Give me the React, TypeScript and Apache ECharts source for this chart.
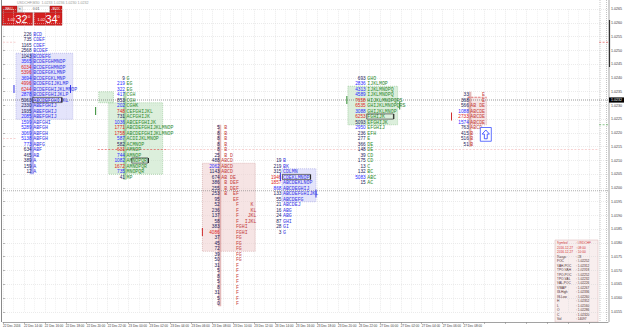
import { useEffect, useRef } from "react";
import * as echarts from "echarts";

// ---------- axes ----------
const timeLabels = [
  "22 Dec 2016", "22 Dec 14:00", "22 Dec 16:00", "22 Dec 18:00", "22 Dec 20:00", "22 Dec 22:00",
  "23 Dec 00:00", "23 Dec 02:00", "23 Dec 04:00", "23 Dec 06:00", "23 Dec 08:00", "23 Dec 10:00",
  "23 Dec 12:00", "23 Dec 14:00", "23 Dec 16:00", "23 Dec 18:00", "23 Dec 20:00", "23 Dec 22:00",
  "27 Dec 00:00", "27 Dec 02:00", "27 Dec 04:00", "27 Dec 06:00", "27 Dec 08:00",
];
const barsPerLabel = 4;
const barMax = 115.6;
const priceMin = 1.0155;
const priceMax = 1.0265;
const priceStep = 0.0005;
const rowStep = 0.0002;
const bidPrice = 1.0232;
const sellText = ["1.02", "32", "0"];
const buyText = ["1.02", "34", "0"];
const lotText = "0.01";
const titleText = "USDCHF,M30  1.0233 1.0236 1.0230 1.0232";

// ---------- profile 1 (blue) ----------
const p1Start = 5.77;
const p1Top = 1.0256;
const p1Counts = [226, 735, 1165, 2568, 1043, 3565, 6034, 5396, 3694, 4996, 6244, 2878, 5063, 2330, 1935, 2085, 1599, 5289, 3069, 5138, 773, 634, 465, 389, 159, 12];
const p1Letters = ["BCD", "CDEF", "CDEF", "BCDEF", "BCDEFG", "BCDEFGHMNOP", "BCDEFGHMNOP", "BCDEFGKLMNP", "BCDEFGKLMNP", "BCDEFGIJKLMP", "BCDEFGHIJKLMNOP", "BCDEFGHIJKLP", "ABCDEFGHIJKL", "ABEFGHIJ", "ABEFGHIJ", "ABEFGHIJ", "ABFGHI", "ABFGH", "ABFGH", "ABFGH", "ABFG", "ABF", "AB", "A", "A", "A"];
const p1Tones = [0, 0, 0, 0, 0, 1, 2, 2, 1, 2, 2, 1, 0, 0, 0, 1, 1, 1, 1, 1, 1, 0, 0, 0, 0, 0];

// ---------- profile 2 (green) ----------
const p2Start = 23.6;
const p2Top = 1.024;
const p2Counts = [9, 219, 322, 417, 853, 202, 748, 731, 1036, 1771, 1758, 587, 582, 631, 744, 1082, 1672, 735, 41];
const p2Letters = ["G", "EG", "EG", "CGH", "CGH", "CGHK", "CEFGHIJKL", "ACFGHIJK", "ABCEFGHIJK", "ABCDEFGHIJKLMNOP", "ABCDEFGHIJKLMNOP", "ACDIJKLMNOP", "ACMNOP", "AMNOP", "AMNOP", "AMNOPQR", "AMNOPQR", "MNOPQR", "MP"];
const p2Tones = [0, 1, 1, 1, 0, 1, 2, 0, 1, 2, 2, 1, 0, 2, 1, 1, 2, 1, 0];

// ---------- profile 3 (red, split) ----------
const p3Start = 41.7;
const p3Top = 1.0222;
const p3Counts = [5, 8, 8, 8, 8, 25, 488, 2062, 1143, 674, 386, 255, 253, 95, 52, 236, 137, 58, 383, 4086, 37, 45, 72, 39, 50, 31, 5, 8, 5, 8, 31, 5, 0];
const p3Letters = [" B", " B", " B", " B", " B", " B D", "ABCD", "ABCD", "ABCD", "AB DE", " B DEF", " B DEF", " B  EF", "    EF", "     F    K", "     F    KL", "     F   JKL", "     F  IJKL", "     FGHI", "     FGHI", "     FG", "     FG", "     FG", "     FG", "     FG", "     F", "     F", "     F", "     F", "     F", "     F", "     F", "     F"];
const p3Tones = [0, 0, 0, 0, 0, 0, 0, 1, 0, 0, 0, 0, 0, 0, 0, 0, 0, 0, 0, 2, 0, 0, 0, 0, 0, 0, 0, 0, 0, 0, 0, 0, 0];

// ---------- profile 4 (blue) ----------
const p4Start = 53.5;
const p4Top = 1.021;
const p4Counts = [19, 219, 315, 1946, 1857, 868, 133, 55, 21, 16, 24, 87, 28, 3];
const p4Letters = ["B", "BK", "CDLMN", "CDEKLMNOP", "ABCDEKLNOP", "ABCDEGHIJ", "ABCDEFGHIJKL", "ABCDEFG", "ABCDEJ", "ABG", "ABG", "GHI", "GI", "G"];
const p4Tones = [0, 0, 0, 2, 2, 1, 0, 0, 0, 0, 0, 0, 0, 0];

// ---------- profile 5 (green) ----------
const p5Start = 69.6;
const p5Top = 1.024;
const p5Counts = [693, 2836, 4313, 4589, 7658, 6535, 3088, 6253, 5093, 2950, 236, 277, 366, 148, 39, 175, 13, 132, 5083, 15];
const p5Letters = ["GHO", "IJKLMOP", "IJKLMNOPQ", "IJKLMNOPQ", "HIJKLMNOPQRS", "GHIJKLMNOPQRS", "GHIJKLMNOP", "FGHIJK", "EFGHIJK", "EFGHIJ", "EFH", "E", "DE", "DE", "CD", "CD", "C", "BC", "ABC", "AC"];
const p5Tones = [0, 1, 1, 1, 2, 2, 1, 2, 0, 1, 0, 0, 0, 0, 0, 0, 0, 0, 1, 0];

// ---------- profile 6 (red, split) ----------
const p6Start = 89.3;
const p6Top = 1.0234;
const p6Counts = [33, 368, 566, 1088, 2733, 1574, 763, 415, 516, 51];
const p6Letters = ["    E", "    E", "AB DE", "ABCDE", "ABCDE", "ABCDE", "ABCD", "B", "B", "B"];
const p6Tones = [0, 0, 0, 1, 2, 1, 0, 0, 0, 0];

// ---------- shapes in data units: [barFrom, barTo, priceTop, priceBottom, style] ----------
const areaBoxes = [
  [2.48, 13.33, 1.0249, 1.0225, 0],
  [5.14, 5.9, 1.0249, 1.0205, 3],
  [20.2, 30.5, 1.0231, 1.0205, 1],
  [18.3, 21.1, 1.0235, 1.0231, 1],
  [23.0, 23.6, 1.0235, 1.0203, 4],
  [38.1, 48.2, 1.0209, 1.0177, 2],
  [41.1, 41.7, 1.0223, 1.0157, 5],
  [53.3, 59.8, 1.0207, 1.0195, 0],
  [65.9, 75.4, 1.0237, 1.0223, 1],
  [88.8, 92.4, 1.0233, 1.0223, 2],
  [88.95, 89.5, 1.0235, 1.0215, 5],
];
// close-price markers [barFrom, barTo, price]
const closeMarks = [
  [5.77, 11.1, 1.0232],
  [24.7, 27.6, 1.021],
  [53.5, 58.6, 1.0204],
  [69.6, 74.5, 1.0226],
];
// POC brackets [bar, price, colour]
const pocBrackets = [
  [2.1, 1.0236, 0],
  [12.9, 1.0236, 0],
  [17.7, 1.0228, 1],
  [38.1, 1.0184, 2],
  [53.0, 1.0204, 0],
  [59.8, 1.0198, 0],
  [65.7, 1.0232, 1],
  [75.8, 1.023, 1],
  [85.7, 1.0226, 2],
];
// breakout arrow box [barFrom, barTo, priceTop, priceBottom]
const arrowBoxes = [[91.2, 93.3, 1.0222, 1.0217]];
// horizontal guide lines [barFrom, barTo, price, style]
const guideLines = [
  [0, barMax, bidPrice, 0],
  [0, barMax, 1.0199, 1],
  [0, 2.5, 1.0253, 2],
  [0, 2.5, 1.0218, 2],
  [18.1, 31.6, 1.0214, 3],
  [31.6, 113.9, 1.0214, 2],
  [88.8, 92.4, 1.0233, 3],
  [113.9, barMax, 1.0253, 3],
  [113.9, barMax, 1.0223, 4],
];
// session statistics panel
const infoLabels = ["Symbol", "2016.12.27", "2016.12.27", "Range", "POC", "VAH-POC", "TPO-VAH", "TPO-POC", "TPO-VAL", "VAL-POC", "VWAP", "IB-High", "IB-Low", "H", "L", "O", "C", "Vol"];
const infoValues = ["USDCHF", "08:00", "10:00", "28", "1.02252", "1.02312", "1.02318", "1.02252", "1.02232", "1.02226", "1.02267", "1.02336", "1.02260", "1.02352", "1.02160", "1.02286", "1.02320", "14097"];

const toneColors = ["#1d1d5e", "#2b2bff", "#e02626"];
const markColors = ["#3434e6", "#2f8a2f", "#d02c2c"];
const boxStyles = [
  { fill: "rgba(205,205,248,0.55)", stroke: "#a4a4e4", lineWidth: 0.6 },
  { fill: "rgba(196,228,196,0.6)", stroke: "#8fc48f", lineWidth: 0.6 },
  { fill: "rgba(238,206,206,0.55)", stroke: "#d4a2a2", lineWidth: 0.6 },
  { fill: "rgba(120,120,235,0.6)", stroke: "none", lineWidth: 0 },
  { fill: "rgba(110,180,110,0.55)", stroke: "none", lineWidth: 0 },
  { fill: "rgba(205,130,130,0.55)", stroke: "none", lineWidth: 0 },
];
const lineStyles = [
  { stroke: "#555", lineWidth: 0.6, lineDash: [1, 1] },
  { stroke: "#777", lineWidth: 0.6, lineDash: [1, 1] },
  { stroke: "#f2b4b4", lineWidth: 0.6, lineDash: [2, 1.5] },
  { stroke: "#e04040", lineWidth: 0.6, lineDash: [2, 1.5] },
  { stroke: "#3aa03a", lineWidth: 0.6, lineDash: [2, 1.5] },
];

function profileSeries(start: number, top: number, counts: number[], letters: string[], tones: number[], letterColor: string) {
  return {
    type: "custom",
    silent: true,
    clip: false,
    z: 5,
    data: counts.map((_, i) => [start, top - i * rowStep]),
    renderItem: (params: any, api: any) => {
      const i = params.dataIndex;
      const pt = api.coord([api.value(0), api.value(1)]);
      return {
        type: "group",
        children: [
          {
            type: "text",
            x: pt[0] - 1.6,
            y: pt[1],
            style: { text: String(counts[i]), align: "right", verticalAlign: "middle", fontSize: 4.7, fontFamily: "Liberation Sans", fill: toneColors[tones[i]] },
          },
          {
            type: "text",
            x: pt[0],
            y: pt[1],
            style: { text: letters[i], align: "left", verticalAlign: "middle", fontSize: 4.9, fontFamily: "Liberation Mono", fill: letterColor },
          },
        ],
      };
    },
  };
}

function infoGraphic() {
  const x0 = 556;
  const y0 = 241;
  const h = 4.45;
  const children: any[] = [
    { type: "rect", shape: { x: x0 - 1, y: y0 - 1, width: 43, height: infoLabels.length * h + 2 }, style: { fill: "#f8eeee", stroke: "#d8b0b0", lineWidth: 0.5 } },
  ];
  infoLabels.forEach((lab, i) => {
    const col = i < 3 ? "#d03030" : "#4a2a2a";
    children.push({ type: "text", x: x0 + 1, y: y0 + i * h + h / 2, style: { text: lab, verticalAlign: "middle", fontSize: 3.2, fill: col, fontFamily: "Liberation Sans" } });
    children.push({ type: "text", x: x0 + 20, y: y0 + i * h + h / 2, style: { text: ": " + infoValues[i], verticalAlign: "middle", fontSize: 3.2, fill: col, fontFamily: "Liberation Sans" } });
  });
  return { type: "group", children };
}

function buildOption() {
  return {
    animation: false,
    backgroundColor: "#ffffff",
    grid: { left: 2, right: 16, top: 9.25, bottom: 19.25 },
    xAxis: {
      type: "value",
      min: 0,
      max: barMax,
      interval: barsPerLabel,
      offset: 10.25,
      axisLine: { show: true, lineStyle: { color: "#8a8a8a", width: 0.8 } },
      axisTick: { show: true, length: 2, lineStyle: { color: "#8a8a8a", width: 0.6 } },
      axisLabel: {
        formatter: (v: number) => timeLabels[Math.round(v / barsPerLabel)] ?? "",
        align: "left",
        fontSize: 3.1,
        color: "#3a3a3a",
        margin: 2,
        fontFamily: "Liberation Sans",
        showMaxLabel: false,
      },
      splitLine: { show: true, lineStyle: { color: "#d6d6d6", width: 0.5, type: [1, 1] } },
      minorTick: { show: false, splitNumber: 2 },
      minorSplitLine: { show: true, lineStyle: { color: "#e4e4e4", width: 0.5, type: [1, 1] } },
    },
    yAxis: {
      type: "value",
      position: "right",
      min: priceMin,
      max: priceMax,
      interval: priceStep,
      axisLine: { show: false },
      axisTick: { show: true, length: 2, lineStyle: { color: "#8a8a8a", width: 0.6 } },
      axisLabel: { formatter: (v: number) => v.toFixed(4), fontSize: 3.6, color: "#3a3a3a", margin: 3, fontFamily: "Liberation Sans" },
      splitLine: { show: true, lineStyle: { color: "#d6d6d6", width: 0.5, type: [1, 1] } },
    },
    graphic: [
      { type: "line", shape: { x1: 1.5, y1: 0, x2: 1.5, y2: 322 }, style: { stroke: "#8a8a8a", lineWidth: 1 } },
      { type: "line", shape: { x1: 609, y1: 0, x2: 609, y2: 322 }, style: { stroke: "#8a8a8a", lineWidth: 0.8 } },
      { type: "line", shape: { x1: 609.5, y1: 20, x2: 609.5, y2: 67 }, style: { stroke: "#333", lineWidth: 1.2 } },
      { type: "line", shape: { x1: 600, y1: 0, x2: 600, y2: 322 }, style: { stroke: "#888", lineWidth: 0.5, lineDash: [1, 1] } },
      { type: "line", shape: { x1: 606.5, y1: 0, x2: 606.5, y2: 322 }, style: { stroke: "#888", lineWidth: 0.5, lineDash: [1, 1] } },
      { type: "text", x: 17, y: 0.5, style: { text: titleText, fontSize: 3.6, fill: "#9a9a9a", fontFamily: "Liberation Sans" } },
      infoGraphic(),
      // trading panel
      { type: "rect", shape: { x: 2, y: 6, width: 15, height: 6.5 }, style: { fill: "#cc1f1f", stroke: "#a01010", lineWidth: 0.4 } },
      { type: "text", x: 9.5, y: 9.3, style: { text: "SELL", align: "center", verticalAlign: "middle", fontSize: 3.4, fill: "#fff", fontFamily: "Liberation Sans" } },
      { type: "rect", shape: { x: 17.5, y: 6, width: 32, height: 6.5 }, style: { fill: "#ffffff", stroke: "#9a9a9a", lineWidth: 0.4 } },
      { type: "rect", shape: { x: 18, y: 6.5, width: 4.5, height: 5.5 }, style: { fill: "#eeeeee", stroke: "#9a9a9a", lineWidth: 0.3 } },
      { type: "text", x: 20.2, y: 9.3, style: { text: "▾", align: "center", verticalAlign: "middle", fontSize: 3.4, fill: "#333" } },
      { type: "text", x: 36, y: 9.3, style: { text: lotText, align: "center", verticalAlign: "middle", fontSize: 3.4, fill: "#333", fontFamily: "Liberation Sans" } },
      { type: "rect", shape: { x: 50, y: 6, width: 12, height: 6.5 }, style: { fill: "#cc1f1f", stroke: "#a01010", lineWidth: 0.4 } },
      { type: "text", x: 56, y: 9.3, style: { text: "BUY", align: "center", verticalAlign: "middle", fontSize: 3.4, fill: "#fff", fontFamily: "Liberation Sans" } },
      { type: "rect", shape: { x: 2, y: 12.8, width: 30.5, height: 12.5 }, style: { fill: "#d42020", stroke: "#a01010", lineWidth: 0.4 } },
      { type: "rect", shape: { x: 34, y: 12.8, width: 28, height: 12.5 }, style: { fill: "#d42020", stroke: "#a01010", lineWidth: 0.4 } },
      { type: "text", x: 15, y: 22, style: { text: sellText[0], align: "right", verticalAlign: "bottom", fontSize: 3.8, fill: "#fff", fontFamily: "Liberation Sans" } },
      { type: "text", x: 15.5, y: 24.5, style: { text: sellText[1], align: "left", verticalAlign: "bottom", fontSize: 11, fill: "#fff", fontFamily: "Liberation Sans" } },
      { type: "text", x: 28, y: 14, style: { text: sellText[2], align: "left", verticalAlign: "top", fontSize: 4, fill: "#fff", fontFamily: "Liberation Sans" } },
      { type: "text", x: 45, y: 22, style: { text: buyText[0], align: "right", verticalAlign: "bottom", fontSize: 3.8, fill: "#fff", fontFamily: "Liberation Sans" } },
      { type: "text", x: 45.5, y: 24.5, style: { text: buyText[1], align: "left", verticalAlign: "bottom", fontSize: 11, fill: "#fff", fontFamily: "Liberation Sans" } },
      { type: "text", x: 57.5, y: 14, style: { text: buyText[2], align: "left", verticalAlign: "top", fontSize: 4, fill: "#fff", fontFamily: "Liberation Sans" } },
    ],
    series: [
      {
        type: "custom",
        silent: true,
        clip: false,
        z: 1,
        data: areaBoxes,
        renderItem: (_p: any, api: any) => {
          const a = api.coord([api.value(0), api.value(2)]);
          const b = api.coord([api.value(1), api.value(3)]);
          const st = boxStyles[api.value(4)];
          return { type: "rect", shape: { x: a[0], y: a[1], width: b[0] - a[0], height: b[1] - a[1] }, style: { fill: st.fill, stroke: st.stroke, lineWidth: st.lineWidth, lineDash: [1, 1] } };
        },
      },
      {
        type: "custom",
        silent: true,
        clip: false,
        z: 2,
        data: guideLines,
        renderItem: (_p: any, api: any) => {
          const a = api.coord([api.value(0), api.value(2)]);
          const b = api.coord([api.value(1), api.value(2)]);
          const st = lineStyles[api.value(3)];
          return { type: "line", shape: { x1: a[0], y1: a[1], x2: b[0], y2: b[1] }, style: st };
        },
      },
      {
        type: "custom",
        silent: true,
        clip: false,
        z: 6,
        data: closeMarks,
        renderItem: (_p: any, api: any) => {
          const a = api.coord([api.value(0), api.value(2)]);
          const b = api.coord([api.value(1), api.value(2)]);
          return {
            type: "group",
            children: [
              { type: "rect", shape: { x: a[0] - 0.5, y: a[1] - 2.6, width: b[0] - a[0] + 1, height: 5.2 }, style: { fill: "none", stroke: "#222", lineWidth: 0.6 } },
              { type: "rect", shape: { x: b[0] + 0.5, y: a[1] - 2.6, width: 0.9, height: 5.2 }, style: { fill: "#111" } },
            ],
          };
        },
      },
      {
        type: "custom",
        silent: true,
        clip: false,
        z: 6,
        data: pocBrackets,
        renderItem: (_p: any, api: any) => {
          const a = api.coord([api.value(0), api.value(1)]);
          const c = markColors[api.value(2)];
          return { type: "rect", shape: { x: a[0] - 0.5, y: a[1] - 4, width: 1, height: 8 }, style: { fill: c } };
        },
      },
      {
        type: "custom",
        silent: true,
        clip: false,
        z: 6,
        data: arrowBoxes,
        renderItem: (_p: any, api: any) => {
          const a = api.coord([api.value(0), api.value(2)]);
          const b = api.coord([api.value(1), api.value(3)]);
          const cx = (a[0] + b[0]) / 2;
          const w = b[0] - a[0];
          const h = b[1] - a[1];
          return {
            type: "group",
            children: [
              { type: "rect", shape: { x: a[0], y: a[1], width: w, height: h }, style: { fill: "#ffffff", stroke: "#3c50ff", lineWidth: 0.8 } },
              {
                type: "polygon",
                shape: {
                  points: [
                    [cx, a[1] + h * 0.18],
                    [cx + w * 0.33, a[1] + h * 0.48],
                    [cx + w * 0.13, a[1] + h * 0.48],
                    [cx + w * 0.13, a[1] + h * 0.82],
                    [cx - w * 0.13, a[1] + h * 0.82],
                    [cx - w * 0.13, a[1] + h * 0.48],
                    [cx - w * 0.33, a[1] + h * 0.48],
                  ],
                },
                style: { fill: "#ffffff", stroke: "#2a3cff", lineWidth: 0.8 },
              },
            ],
          };
        },
      },
      {
        type: "custom",
        silent: true,
        clip: false,
        z: 7,
        data: [[barMax, bidPrice]],
        renderItem: (_p: any, api: any) => {
          const a = api.coord([api.value(0), api.value(1)]);
          return {
            type: "group",
            children: [
              { type: "rect", shape: { x: a[0] + 1, y: a[1] - 2.6, width: 15, height: 5.2 }, style: { fill: "#000" } },
              { type: "text", x: a[0] + 3, y: a[1], style: { text: bidPrice.toFixed(4), verticalAlign: "middle", fontSize: 3.6, fill: "#fff", fontFamily: "Liberation Sans" } },
            ],
          };
        },
      },
      profileSeries(p1Start, p1Top, p1Counts, p1Letters, p1Tones, "#3434e6"),
      profileSeries(p2Start, p2Top, p2Counts, p2Letters, p2Tones, "#2f8a2f"),
      profileSeries(p3Start, p3Top, p3Counts, p3Letters, p3Tones, "#c43c3c"),
      profileSeries(p4Start, p4Top, p4Counts, p4Letters, p4Tones, "#3434e6"),
      profileSeries(p5Start, p5Top, p5Counts, p5Letters, p5Tones, "#2f8a2f"),
      profileSeries(p6Start, p6Top, p6Counts, p6Letters, p6Tones, "#c43c3c"),
    ],
  };
}

export default function App() {
  const ref = useRef<HTMLDivElement>(null);
  useEffect(() => {
    const chart = echarts.init(ref.current!, null, { renderer: "svg" });
    chart.setOption(buildOption() as any);
    return () => chart.dispose();
  }, []);
  return <div ref={ref} style={{ position: "fixed", left: 0, top: 0, width: 625, height: 331, background: "#fff" }} />;
}
